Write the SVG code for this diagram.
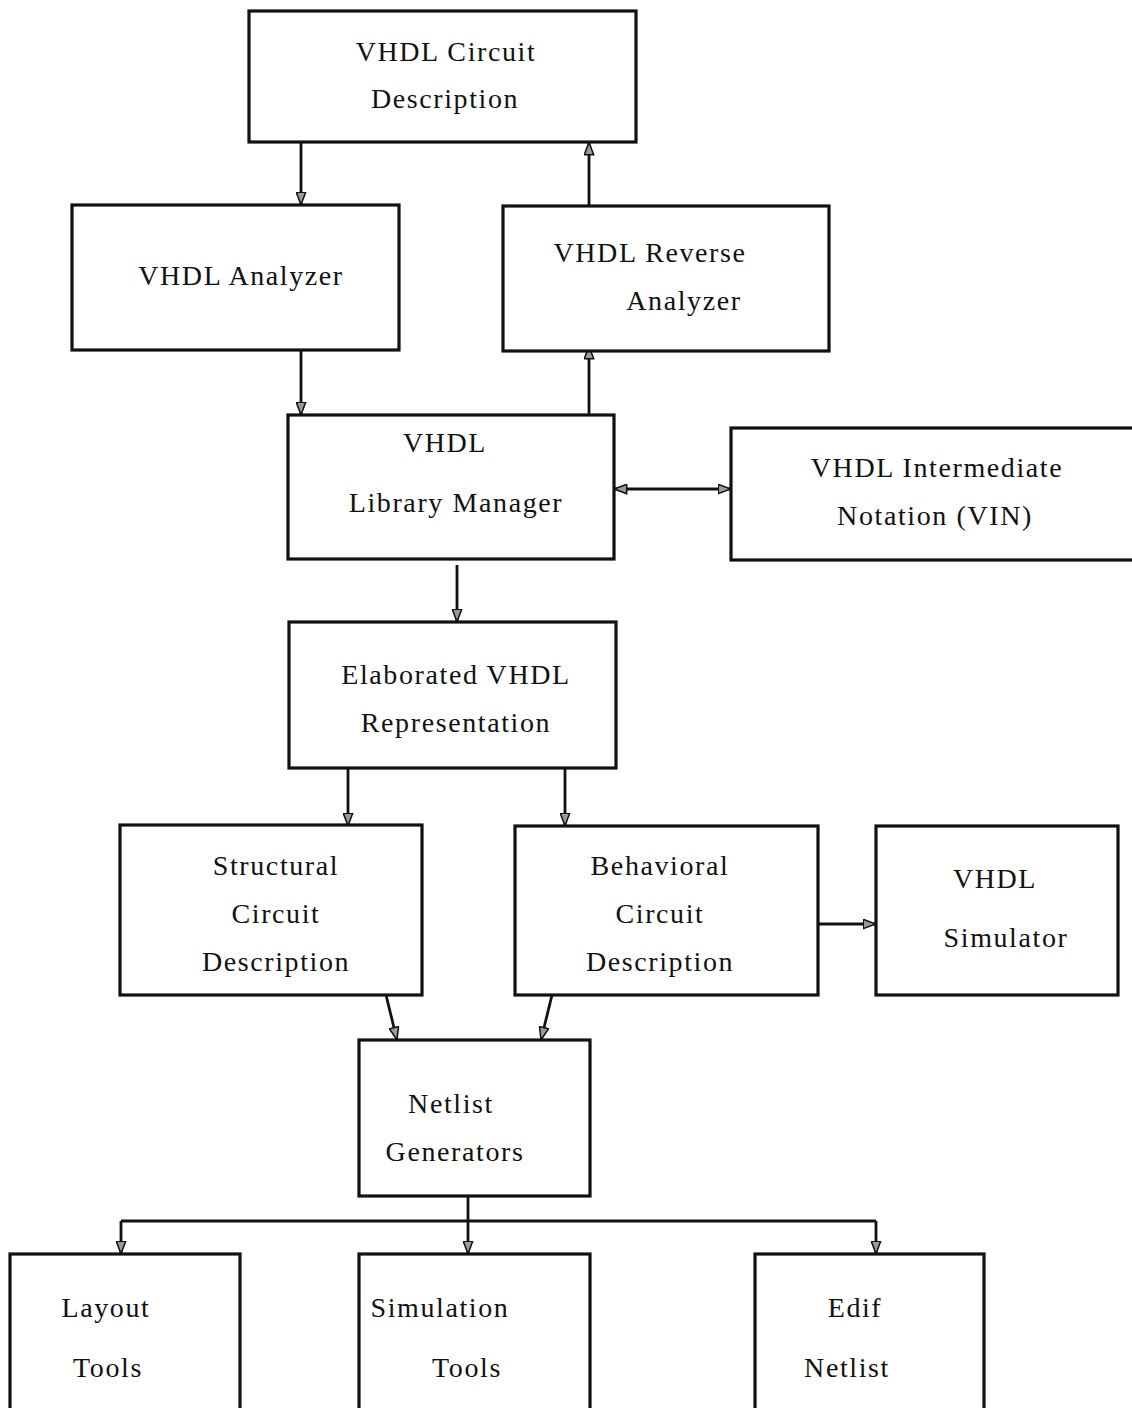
<svg xmlns="http://www.w3.org/2000/svg" width="1132" height="1408" viewBox="0 0 1132 1408">
  <style>
    .box { fill: #fff; stroke: #111; stroke-width: 3.2; }
    .lbl { font-family: "Liberation Serif", "DejaVu Serif", serif; font-size: 28px; letter-spacing: 1.6px; fill: #111; text-anchor: middle; }
    .wire { fill: none; stroke: #111; stroke-width: 2.8; }
  </style>
  <defs>
    <marker id="arr" viewBox="0 0 14 11" refX="13.5" refY="5.5" markerWidth="14" markerHeight="11" markerUnits="userSpaceOnUse" orient="auto-start-reverse">
      <path d="M0.8,0.8 L13.3,5.5 L0.8,10.2 Z" fill="#9a9a9a" stroke="#111" stroke-width="1.5"/>
    </marker>
  </defs>
  <rect width="1132" height="1408" fill="#fff"/>

  <g id="connectors">
    <line class="wire" x1="301" y1="142" x2="301" y2="205" marker-end="url(#arr)"/>
    <line class="wire" x1="589" y1="206" x2="589" y2="142" marker-end="url(#arr)"/>
    <line class="wire" x1="301" y1="350" x2="301" y2="415" marker-end="url(#arr)"/>
    <line class="wire" x1="589" y1="415" x2="589" y2="346" marker-end="url(#arr)"/>
    <line class="wire" x1="614" y1="489" x2="731" y2="489" marker-start="url(#arr)" marker-end="url(#arr)"/>
    <line class="wire" x1="457" y1="565" x2="457" y2="622" marker-end="url(#arr)"/>
    <line class="wire" x1="348" y1="768" x2="348" y2="826" marker-end="url(#arr)"/>
    <line class="wire" x1="565" y1="768" x2="565" y2="826" marker-end="url(#arr)"/>
    <line class="wire" x1="386" y1="995" x2="397" y2="1040" marker-end="url(#arr)"/>
    <line class="wire" x1="552" y1="995" x2="541" y2="1040" marker-end="url(#arr)"/>
    <line class="wire" x1="818" y1="924" x2="876" y2="924" marker-end="url(#arr)"/>
    <line class="wire" x1="468" y1="1196" x2="468" y2="1221"/>
    <line class="wire" x1="121" y1="1221" x2="876" y2="1221"/>
    <line class="wire" x1="121" y1="1221" x2="121" y2="1254" marker-end="url(#arr)"/>
    <line class="wire" x1="468" y1="1221" x2="468" y2="1254" marker-end="url(#arr)"/>
    <line class="wire" x1="876" y1="1221" x2="876" y2="1254" marker-end="url(#arr)"/>
  </g>

  <g id="vhdl-circuit-description">
    <rect class="box" x="249" y="11" width="387" height="131"/>
    <text class="lbl" x="446" y="61">VHDL Circuit</text>
    <text class="lbl" x="445" y="108">Description</text>
  </g>

  <g id="vhdl-analyzer">
    <rect class="box" x="72" y="205" width="327" height="145"/>
    <text class="lbl" x="241" y="285">VHDL Analyzer</text>
  </g>

  <g id="vhdl-reverse-analyzer">
    <rect class="box" x="503" y="206" width="326" height="145"/>
    <text class="lbl" x="650" y="262">VHDL Reverse</text>
    <text class="lbl" x="684" y="310">Analyzer</text>
  </g>

  <g id="vhdl-library-manager">
    <rect class="box" x="288" y="415" width="326" height="144"/>
    <text class="lbl" x="445" y="452">VHDL</text>
    <text class="lbl" x="456" y="512">Library Manager</text>
  </g>

  <g id="vin">
    <rect class="box" x="731" y="428" width="410" height="132"/>
    <text class="lbl" x="937" y="477">VHDL Intermediate</text>
    <text class="lbl" x="935" y="525">Notation (VIN)</text>
  </g>

  <g id="elaborated-representation">
    <rect class="box" x="289" y="622" width="327" height="146"/>
    <text class="lbl" x="456" y="684">Elaborated VHDL</text>
    <text class="lbl" x="456" y="732">Representation</text>
  </g>

  <g id="structural-description">
    <rect class="box" x="120" y="825" width="302" height="170"/>
    <text class="lbl" x="276" y="875">Structural</text>
    <text class="lbl" x="276" y="923">Circuit</text>
    <text class="lbl" x="276" y="971">Description</text>
  </g>

  <g id="behavioral-description">
    <rect class="box" x="515" y="826" width="303" height="169"/>
    <text class="lbl" x="660" y="875">Behavioral</text>
    <text class="lbl" x="660" y="923">Circuit</text>
    <text class="lbl" x="660" y="971">Description</text>
  </g>

  <g id="vhdl-simulator">
    <rect class="box" x="876" y="826" width="242" height="169"/>
    <text class="lbl" x="995" y="888">VHDL</text>
    <text class="lbl" x="1006" y="947">Simulator</text>
  </g>

  <g id="netlist-generators">
    <rect class="box" x="359" y="1040" width="231" height="156"/>
    <text class="lbl" x="451" y="1113">Netlist</text>
    <text class="lbl" x="455" y="1161">Generators</text>
  </g>

  <g id="layout-tools">
    <rect class="box" x="10" y="1254" width="230" height="170"/>
    <text class="lbl" x="106" y="1317">Layout</text>
    <text class="lbl" x="108" y="1377">Tools</text>
  </g>

  <g id="simulation-tools">
    <rect class="box" x="359" y="1254" width="231" height="170"/>
    <text class="lbl" x="440" y="1317">Simulation</text>
    <text class="lbl" x="467" y="1377">Tools</text>
  </g>

  <g id="edif-netlist">
    <rect class="box" x="755" y="1254" width="229" height="170"/>
    <text class="lbl" x="855" y="1317">Edif</text>
    <text class="lbl" x="847" y="1377">Netlist</text>
  </g>
</svg>
